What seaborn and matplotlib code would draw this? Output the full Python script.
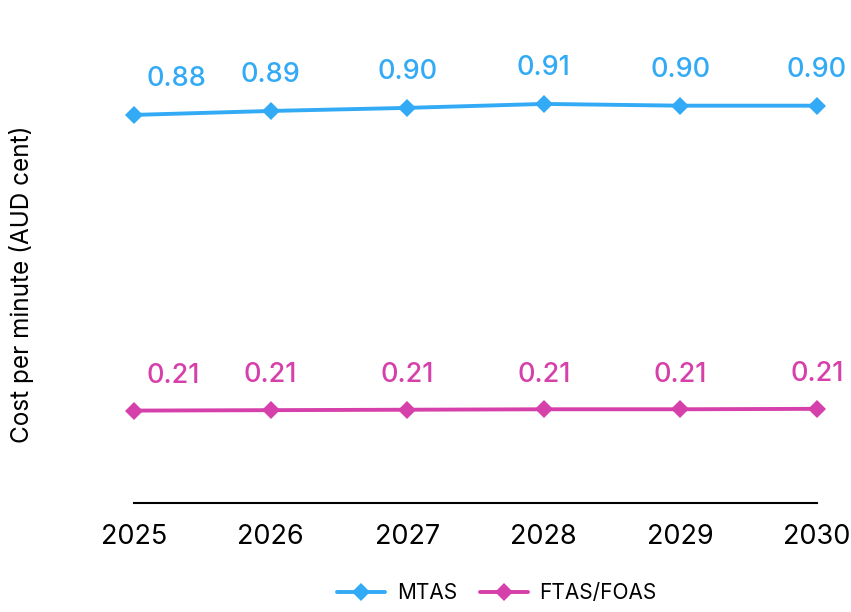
import pandas as pd
import matplotlib.pyplot as plt
import seaborn as sns

years = [2025, 2026, 2027, 2028, 2029, 2030]
mtas = [0.882, 0.891, 0.898, 0.907, 0.903, 0.903]
ftas = [0.210, 0.211, 0.212, 0.213, 0.213, 0.214]
series_names = ["MTAS", "FTAS/FOAS"]
colors = ["#33aaf5", "#d640aa"]

df = pd.DataFrame({
    "year": years * 2,
    "cost": mtas + ftas,
    "series": [series_names[0]] * len(years) + [series_names[1]] * len(years),
})

sns.set_theme(style="white")
plt.rcParams["font.family"] = ["Inter", "DejaVu Sans"]
plt.rcParams["text.color"] = "black"

fig = plt.figure(figsize=(8.51, 6.12), dpi=100)
ax = fig.add_axes([134 / 851, 1 - 503 / 612, 683 / 851, 440 / 612])

sns.lineplot(data=df, x="year", y="cost", hue="series", style="series",
             markers=["D", "D"], dashes=False, palette=colors,
             linewidth=2.8, markersize=9.5, markeredgewidth=0, ax=ax, legend=True)
for line in ax.lines:
    line.set_clip_on(False)

# data labels
for vals, col, off in zip([mtas, ftas], colors, [26, 25]):
    for i, (x, v) in enumerate(zip(years, vals)):
        if i == 0:
            ax.annotate(f"{v:.2f}", (x, v), xytext=(9, off), textcoords="offset points",
                        ha="left", va="center", color=col, fontsize=19.5, fontweight="medium")
        else:
            ax.annotate(f"{v:.2f}", (x, v), xytext=(0, off), textcoords="offset points",
                        ha="center", va="center", color=col, fontsize=19.5, fontweight="medium")

ax.set_xlim(years[0], years[-1])
ax.set_ylim(0, 1.0)
ax.set_xticks(years)
ax.set_xticklabels([str(y) for y in years], fontsize=19.5)
ax.set_yticks([])
ax.set_xlabel("")
ax.set_ylabel("")
ax.tick_params(axis="x", length=0, pad=15, colors="black")
fig.text(22 / 851, 1 - 284 / 612, "Cost per minute (AUD cent)", rotation=90,
         ha="center", va="center", fontsize=17.5, color="black")

for side in ["top", "right", "left"]:
    ax.spines[side].set_visible(False)
ax.spines["bottom"].set_color("black")
ax.spines["bottom"].set_linewidth(1.5)

handles, labels = ax.get_legend_handles_labels()
ax.get_legend().remove()
fig.legend(handles, labels, loc="center", bbox_to_anchor=(0.584, 0.031), ncol=2,
           frameon=False, fontsize=15, handlelength=2.3, columnspacing=1.1,
           handletextpad=0.55, labelcolor="black")

fig.savefig("out.png", dpi=100)
